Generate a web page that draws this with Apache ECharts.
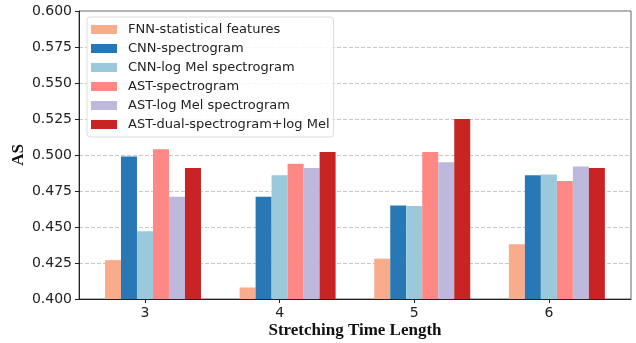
<!DOCTYPE html>
<html>
<head>
<meta charset="utf-8">
<script src="https://cdn.jsdelivr.net/npm/echarts@6/dist/echarts.min.js"></script>
<style>
  html, body { margin: 0; padding: 0; background: #fff; }
  #main { width: 636px; height: 343px; }
</style>
</head>
<body>
<div id="main"></div>
<script>
// stretching time length (x positions)
const lengths = [3, 4, 5, 6];
const yTicks = [0.4, 0.6];

const fnnStat = [0.427, 0.408, 0.428, 0.438];
const cnnSpec = [0.499, 0.471, 0.465, 0.486];
const cnnLogMel = [0.447, 0.486, 0.4645, 0.4865];
const astSpec = [0.504, 0.494, 0.502, 0.482];
const astLogMel = [0.471, 0.491, 0.495, 0.492];
const astDual = [0.491, 0.502, 0.525, 0.491];

const names = [
  'FNN-statistical features',
  'CNN-spectrogram',
  'CNN-log Mel spectrogram',
  'AST-spectrogram',
  'AST-log Mel spectrogram',
  'AST-dual-spectrogram+log Mel'
];
const colors = ['#F8AC8C', '#2878B5', '#9AC9DB', '#FF8884', '#BEB8DC', '#C82423'];
const values = [fnnStat, cnnSpec, cnnLogMel, astSpec, astLogMel, astDual];

const chart = echarts.init(document.getElementById('main'));

// matplotlib puts the tick under the 3rd bar, so an empty slot goes first
const series = [{
  name: 'pad',
  type: 'bar',
  barWidth: 16,
  barGap: '0%',
  data: lengths.map(x => [x, null])
}];
values.forEach((vals, i) => {
  series.push({
    name: names[i],
    type: 'bar',
    barWidth: 16,
    barGap: '0%',
    itemStyle: { color: colors[i] },
    data: lengths.map((x, j) => [x, vals[j]])
  });
});

const option = {
  animation: false,
  textStyle: { fontFamily: 'DejaVu Sans' },
  grid: {
    left: 79, right: 5, top: 11, bottom: 44,
    outerBoundsMode: 'none',
    containLabel: false,
    show: true, borderColor: '#666', borderWidth: 1
  },
  legend: {
    data: names,
    orient: 'vertical',
    left: 87,
    top: 17,
    itemWidth: 26,
    itemHeight: 9,
    itemGap: 6,
    padding: [6, 4, 6, 4],
    borderColor: '#ddd',
    borderWidth: 1,
    borderRadius: 3,
    backgroundColor: 'rgba(255,255,255,0.85)',
    icon: 'rect',
    textStyle: { fontSize: 13, color: '#222', padding: [0, 0, 0, 6], fontFamily: 'DejaVu Sans' }
  },
  xAxis: {
    type: 'value',
    min: 2.51,
    max: 6.61,
    name: 'Stretching Time Length',
    nameLocation: 'middle',
    nameGap: 23,
    nameMoveOverlap: false,
    nameTextStyle: { fontFamily: 'Liberation Serif', fontWeight: 'bold', fontSize: 17, color: '#111' },
    axisLine: { lineStyle: { color: '#222' } },
    axisTick: { show: true, length: 4, customValues: lengths, lineStyle: { color: '#222' } },
    axisLabel: { customValues: lengths, fontSize: 14, color: '#222', margin: 7 },
    splitLine: { show: false }
  },
  yAxis: {
    type: 'value',
    min: yTicks[0],
    max: yTicks[1],
    interval: 0.025,
    name: 'AS',
    nameLocation: 'middle',
    nameGap: 52,
    nameMoveOverlap: false,
    nameRotate: 90,
    nameTextStyle: { fontFamily: 'Liberation Serif', fontWeight: 'bold', fontSize: 17, color: '#111' },
    axisLine: { show: true, lineStyle: { color: '#222' } },
    axisTick: { show: true, length: 4, lineStyle: { color: '#222' } },
    axisLabel: { fontSize: 14, color: '#222', margin: 7, formatter: v => v.toFixed(3) },
    splitLine: { show: true, lineStyle: { type: [4, 2], color: '#bbb', width: 0.8 } }
  },
  series: series
};

chart.setOption(option);
</script>
</body>
</html>
